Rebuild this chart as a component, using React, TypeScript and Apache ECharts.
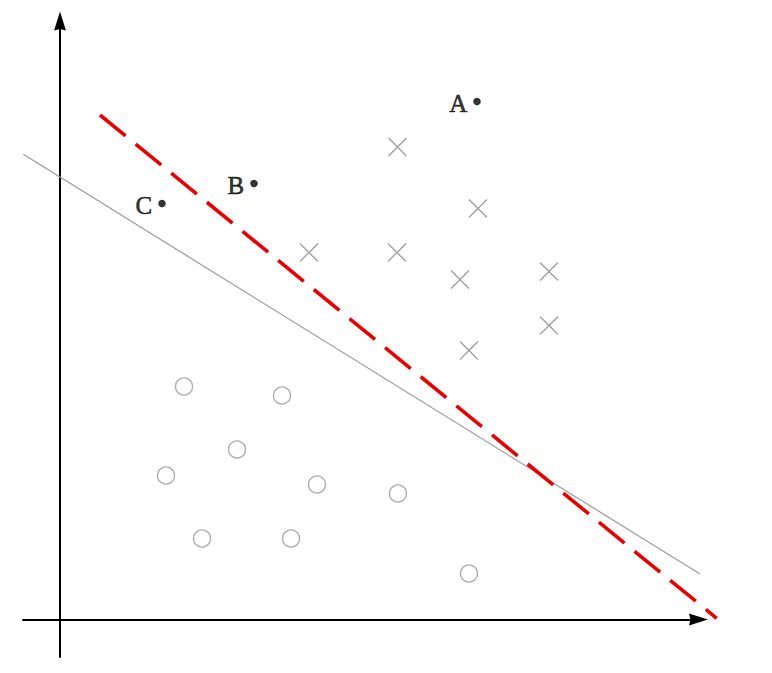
import React, { useEffect, useRef } from "react";
import * as echarts from "echarts";

// Data (coordinate units; origin at axes intersection)
const crossPoints: [number, number][] = [
  [16.875, 23.625],
  [20.9, 20.55],
  [12.45, 18.35],
  [16.85, 18.35],
  [20.0, 17.0],
  [24.45, 17.4],
  [24.45, 14.7],
  [20.45, 13.45],
];

const circlePoints: [number, number][] = [
  [6.2, 11.65],
  [11.1, 11.2],
  [8.85, 8.5],
  [5.3, 7.2],
  [12.85, 6.75],
  [16.9, 6.3],
  [7.1, 4.05],
  [11.55, 4.05],
  [20.45, 2.3],
];

const dotNames = ["A", "B", "C"];
const dotPoints: [number, number][] = [
  [20.85, 25.9],
  [9.7, 21.8],
  [5.1, 20.8],
];

const grayLine: [number, number][] = [
  [-1.835, 23.26],
  [32.0, 2.275],
];

const redLine: [number, number][] = [
  [2.0, 25.225],
  [32.835, 0.06],
];

const xRange = [-1.85, 31.925];
const xRangeWide = [-1.85, 33.15];
const yRange = [-1.875, 29.925];

export default function App() {
  const ref = useRef<HTMLDivElement>(null);

  useEffect(() => {
    if (!ref.current) return;
    const chart = echarts.init(ref.current, null, { renderer: "svg" });
    const arrowPath = "path://M5,0L10,16L5,14.8L0,16Z";
    const hidden = {
      splitLine: { show: false },
      axisTick: { show: false },
      axisLabel: { show: false },
    };
    const axisCommon = {
      type: "value" as const,
      ...hidden,
      axisLine: {
        show: true,
        onZero: true,
        symbol: ["none", arrowPath],
        symbolSize: [13, 19],
        lineStyle: { color: "#000", width: 2 },
      },
    };
    const marks = { xAxisIndex: 1, yAxisIndex: 1, clip: false };
    chart.setOption({
      animation: false,
      backgroundColor: "#fff",
      grid: [
        { left: 23, top: 21, width: 675.5, height: 636 },
        { left: 23, top: 21, width: 700, height: 636 },
      ],
      xAxis: [
        { ...axisCommon, gridIndex: 0, min: xRange[0], max: xRange[1] },
        { type: "value", ...hidden, axisLine: { show: false }, gridIndex: 1, min: xRangeWide[0], max: xRangeWide[1] },
      ],
      yAxis: [
        { ...axisCommon, gridIndex: 0, min: yRange[0], max: yRange[1] },
        { type: "value", ...hidden, axisLine: { show: false }, gridIndex: 1, min: yRange[0], max: yRange[1] },
      ],
      series: [
        {
          type: "line",
          ...marks,
          data: grayLine,
          symbol: "none",
          lineStyle: { color: "#999", width: 1.2 },
          z: 2,
        },
        {
          type: "line",
          ...marks,
          data: redLine,
          symbol: "none",
          lineStyle: { color: "#e60000", width: 3.6, type: [33, 13], cap: "butt" },
          z: 3,
        },
        {
          type: "scatter",
          ...marks,
          data: crossPoints,
          symbol: "path://M0,0L10,10M10,0L0,10",
          symbolSize: 18,
          itemStyle: { color: "rgba(0,0,0,0)", borderColor: "#858585", borderWidth: 1.3 },
          z: 4,
        },
        {
          type: "scatter",
          ...marks,
          data: circlePoints,
          symbol: "circle",
          symbolSize: 17,
          itemStyle: { color: "rgba(0,0,0,0)", borderColor: "#999", borderWidth: 1.4 },
          z: 4,
        },
        {
          type: "scatter",
          ...marks,
          data: dotPoints.map((p, i) => ({ name: dotNames[i], value: p })),
          symbol: "circle",
          symbolSize: 7.5,
          itemStyle: { color: "#000" },
          label: {
            show: true,
            position: "left",
            distance: 6,
            offset: [0, 2],
            formatter: "{b}",
            fontFamily: "Liberation Serif",
            fontSize: 25,
            color: "#000",
            textBorderColor: "#000",
            textBorderWidth: 0.6,
          },
          z: 5,
        },
      ],
    });
    return () => chart.dispose();
  }, []);

  return (
    <div
      ref={ref}
      style={{ position: "fixed", left: 0, top: 0, width: 772, height: 673, background: "#fff" }}
    />
  );
}
